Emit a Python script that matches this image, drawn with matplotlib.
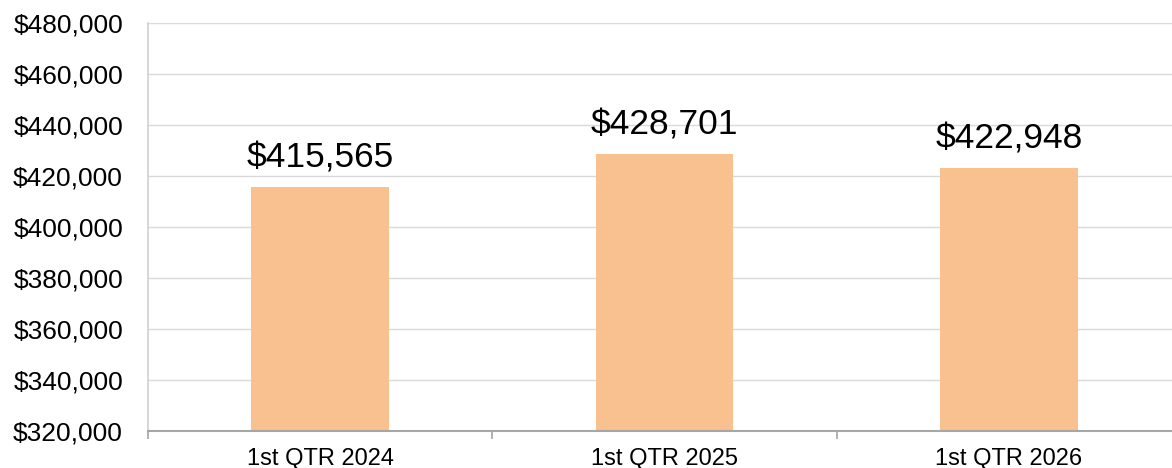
import matplotlib
matplotlib.use("Agg")
import matplotlib.pyplot as plt
from matplotlib.ticker import FuncFormatter, FixedLocator, NullFormatter
import numpy as np

categories = ["1st QTR 2024", "1st QTR 2025", "1st QTR 2026"]
values = [415565, 428701, 422948]
y_ticks = [320000, 340000, 360000, 380000, 400000, 420000, 440000, 460000, 480000]

plt.rcParams['font.family'] = ['Liberation Sans', 'DejaVu Sans']

fig = plt.figure(figsize=(11.72, 4.68), dpi=100)
ax = fig.add_axes([148/1172, 37/468, 1033/1172, (431-23)/468])

x = np.arange(len(categories))
ax.bar(x, values, width=0.40, color="#F9C090", zorder=3)

ax.set_xlim(-0.5, len(categories) - 0.5)
ax.set_ylim(y_ticks[0], y_ticks[-1])
ax.set_yticks(y_ticks)
ax.yaxis.set_major_formatter(FuncFormatter(lambda v, p: f"${v:,.0f}"))
ax.tick_params(axis='y', length=0, labelsize=19, pad=18, labelcolor="black")
ax.grid(axis='y', color="#d9d9d9", linewidth=1, zorder=0)

# x ticks: labels at centers, tick marks at boundaries
ax.set_xticks(x)
ax.set_xticklabels(categories)
ax.tick_params(axis='x', which='major', length=0, labelsize=17, pad=12)
ax.xaxis.set_minor_locator(FixedLocator(np.arange(-0.5, len(categories), 1.0)))
ax.xaxis.set_minor_formatter(NullFormatter())
ax.tick_params(axis='x', which='minor', length=6, width=1.2, color="#a6a6a6", direction='out')

for s in ["top", "right"]:
    ax.spines[s].set_visible(False)
ax.spines["left"].set_color("#d0d0d0")
ax.spines["left"].set_linewidth(1.2)
ax.spines["bottom"].set_color("#a6a6a6")
ax.spines["bottom"].set_linewidth(1.5)
ax.spines["bottom"].set_zorder(4)

for xi, v in zip(x, values):
    ax.annotate(f"${v:,}", (xi, v), xytext=(0, 9), textcoords="offset points",
                ha="center", va="bottom", fontsize=25.5, color="black", zorder=5)

fig.savefig("out.png", dpi=100)
